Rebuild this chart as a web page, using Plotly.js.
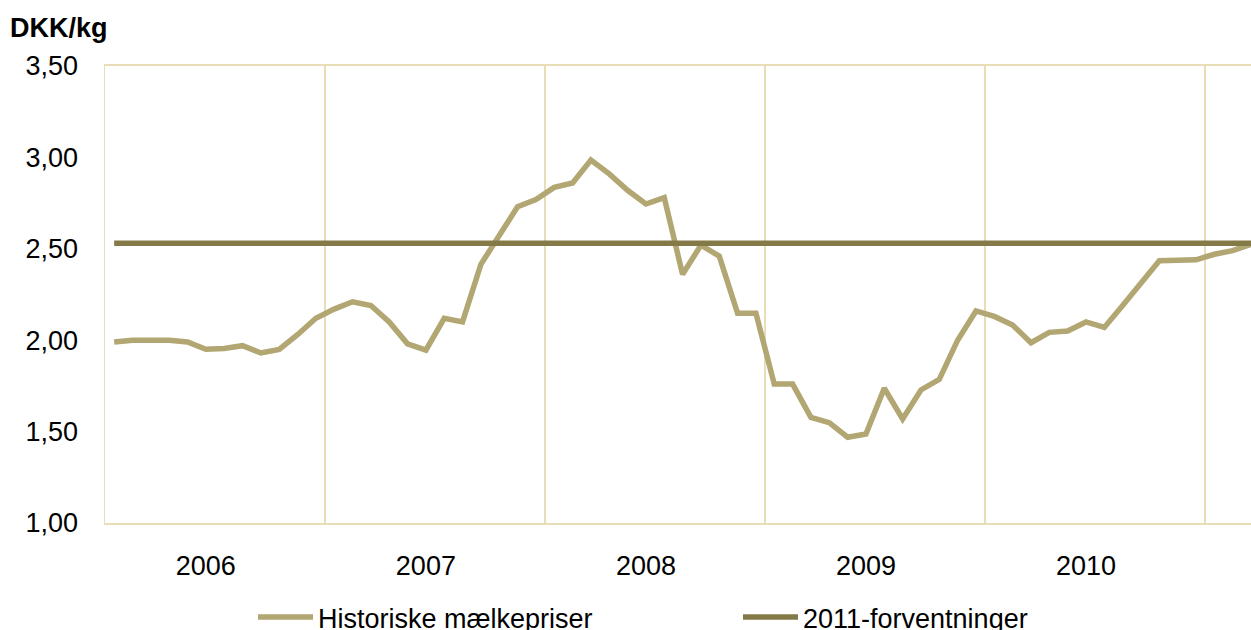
<!DOCTYPE html>
<html>
<head>
<meta charset="utf-8">
<script src="https://cdn.plot.ly/plotly-3.0.1.min.js"></script>
<style>
  html, body { margin: 0; padding: 0; background: #fff; }
  #chart { width: 1251px; height: 630px; }
</style>
</head>
<body>
<div id="chart"></div>
<script>
// monthly milk prices, jan 2006 - mar 2011 (DKK/kg)
const milkPrices = [
  1.99, 2.00, 2.00, 2.00, 1.99, 1.95, 1.955, 1.97, 1.93, 1.95, 2.03, 2.12,
  2.17, 2.21, 2.19, 2.10, 1.98, 1.946, 2.12, 2.10, 2.415, 2.57, 2.73, 2.77,
  2.836, 2.86, 2.986, 2.91, 2.82, 2.745, 2.78, 2.36, 2.52, 2.46, 2.147, 2.147,
  1.76, 1.76, 1.578, 1.549, 1.469, 1.487, 1.737, 1.569, 1.728, 1.786, 2.00, 2.16,
  2.13, 2.083, 1.986, 2.043, 2.05, 2.10, 2.07, 2.19, 2.31, 2.435, 2.437, 2.44,
  2.47, 2.49, 2.525
];
const forecast2011 = 2.53;

const years = ["2006", "2007", "2008", "2009", "2010"];
const yearLabelMonths = [5, 17, 29, 41, 53];
const yearBoundaries = [11.5, 23.5, 35.5, 47.5, 59.5];

const months = milkPrices.map((_, i) => i);
const lastMonth = months[months.length - 1];

const frameColor = "#e8ddb5";
const font = "Liberation Sans, Arial, sans-serif";

const historic = {
  x: months,
  y: milkPrices,
  name: "Historiske mælkepriser",
  type: "scatter",
  mode: "lines",
  line: { color: "#b2a672", width: 5.5 }
};

const forecast = {
  x: [0, lastMonth],
  y: [forecast2011, forecast2011],
  name: "2011-forventninger",
  type: "scatter",
  mode: "lines",
  line: { color: "#847a48", width: 5.5 }
};

const layout = {
  width: 1251,
  height: 630,
  margin: { l: 105, r: 0, t: 66, b: 107, autoexpand: false },
  paper_bgcolor: "#fff",
  plot_bgcolor: "#fff",
  separators: ",.",
  font: { family: font, size: 27, color: "#000" },
  title: {
    text: "<b>DKK/kg</b>",
    font: { family: font, size: 27, color: "#000" },
    xref: "container",
    yref: "container",
    x: 10 / 1251,
    xanchor: "left",
    y: 1 - 28 / 630,
    yanchor: "middle"
  },
  xaxis: {
    range: [-0.5, lastMonth],
    tickmode: "array",
    tickvals: yearLabelMonths,
    ticktext: years,
    ticks: "",
    ticklabelstandoff: 18,
    showgrid: false,
    zeroline: false,
    showline: true,
    mirror: true,
    linecolor: frameColor,
    linewidth: 2,
    minor: {
      tickmode: "array",
      tickvals: yearBoundaries,
      ticks: "",
      showgrid: true,
      gridcolor: frameColor,
      gridwidth: 1.5
    },
    fixedrange: true
  },
  yaxis: {
    range: [1, 3.5],
    tick0: 1,
    dtick: 0.5,
    tickformat: ".2f",
    ticks: "",
    ticklabelstandoff: 20,
    showgrid: false,
    zeroline: false,
    showline: true,
    linecolor: frameColor,
    linewidth: 1.5,
    fixedrange: true
  },
  showlegend: true,
  legend: {
    orientation: "h",
    x: (253 - 105) / 1146,
    xanchor: "left",
    y: -(70 / 457),
    yanchor: "top",
    itemwidth: 55,
    entrywidth: 415,
    font: { family: font, size: 27, color: "#000" },
    bgcolor: "rgba(0,0,0,0)"
  }
};

Plotly.newPlot("chart", [historic, forecast], layout, { displayModeBar: false, staticPlot: true });
</script>
</body>
</html>
